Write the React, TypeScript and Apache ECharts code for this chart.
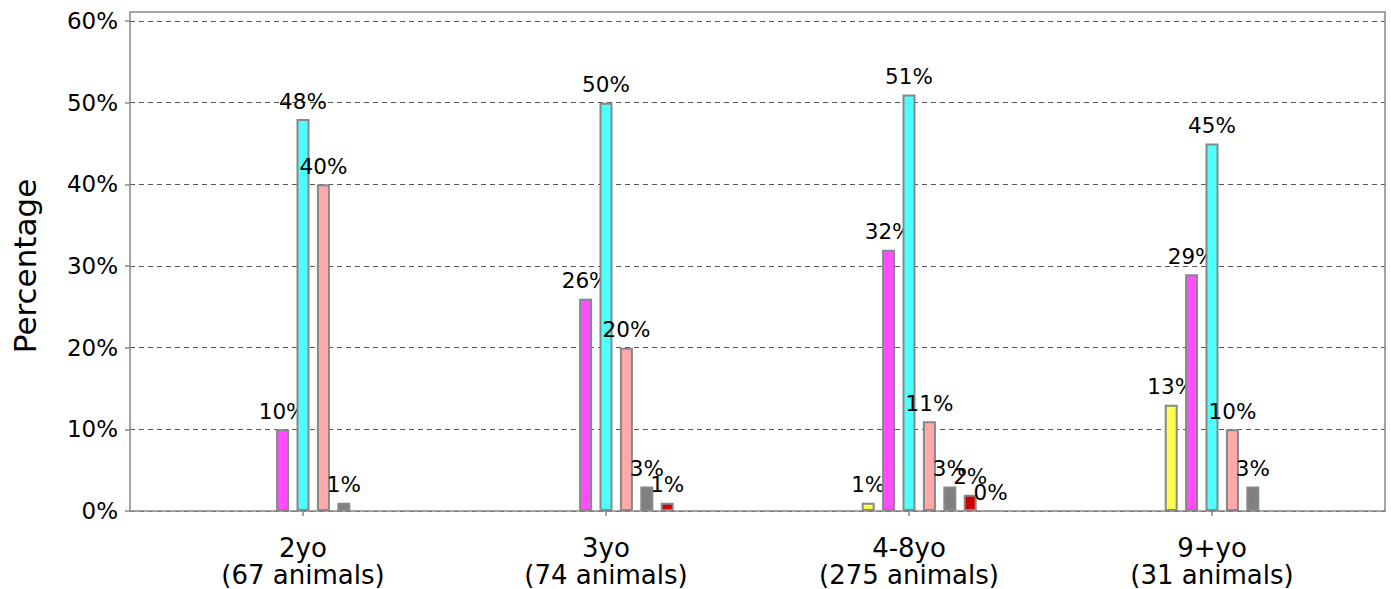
import React, { useEffect, useRef } from "react";
import * as echarts from "echarts";

const categories = ["2yo\n(67 animals)", "3yo\n(74 animals)", "4-8yo\n(275 animals)", "9+yo\n(31 animals)"];
const yTicks = [0, 10, 20, 30, 40, 50, 60];
const emptyA: (number | null)[] = [null, null, null, null];
const emptyB: (number | null)[] = [null, null, null, null];
const yellowVals: (number | null)[] = [null, null, 1, 13];
const magentaVals: (number | null)[] = [10, 26, 32, 29];
const cyanVals: (number | null)[] = [48, 50, 51, 45];
const pinkVals: (number | null)[] = [40, 20, 11, 10];
const grayVals: (number | null)[] = [1, 3, 3, 3];
const redVals: (number | null)[] = [null, 1, 2, null];
const lightVals: (number | null)[] = [null, null, 0, null];

const seriesDefs = [
  { name: "a", data: emptyA, color: "#ffffff", border: "#888888" },
  { name: "b", data: emptyB, color: "#ffffff", border: "#888888" },
  { name: "yellow", data: yellowVals, color: "#ffff4d", border: "#888888" },
  { name: "magenta", data: magentaVals, color: "#ff4dff", border: "#888888" },
  { name: "cyan", data: cyanVals, color: "#4dffff", border: "#888888" },
  { name: "pink", data: pinkVals, color: "#ffaaaa", border: "#888888" },
  { name: "gray", data: grayVals, color: "#808080", border: "#888888" },
  { name: "red", data: redVals, color: "#cc0000", border: "#888888" },
  { name: "light", data: lightVals, color: "#d9d9d9", border: "#cccccc" },
];

const FONT = "DejaVu Sans";

export default function App() {
  const ref = useRef<HTMLDivElement>(null);
  useEffect(() => {
    if (!ref.current) return;
    const chart = echarts.init(ref.current, null, { renderer: "svg" });
    const option: any = {
      animation: false,
      backgroundColor: "#ffffff",
      textStyle: { fontFamily: FONT },
      grid: [
        { left: 130, top: 12, right: 6, bottom: 78, show: true, borderColor: "#888888", borderWidth: 1.5, backgroundColor: "transparent", z: 30 },
        { left: 130, top: 21, right: 6, bottom: 78 },
        { left: 151.5, top: 21, width: 1212, bottom: 78 },
      ],
      xAxis: [
        { gridIndex: 0, type: "value", show: false, min: 0, max: 1 },
        { gridIndex: 1, type: "value", show: false, min: 0, max: 1 },
        {
          gridIndex: 2,
          type: "category",
          data: categories,
          axisLine: { show: false },
          axisTick: { show: true, alignWithLabel: true, length: 5, lineStyle: { color: "#888888", width: 1.5 } },
          axisLabel: { fontFamily: FONT, fontSize: 26, color: "#000", lineHeight: 27, margin: 23 },
          splitLine: { show: false },
        },
      ],
      yAxis: [
        { gridIndex: 0, type: "value", show: false, min: 0, max: 1 },
        {
          gridIndex: 1,
          type: "value",
          min: 0,
          max: 60,
          interval: 10,
          name: "Percentage",
          nameLocation: "middle",
          nameRotate: 90,
          nameGap: 90,
          nameTextStyle: { fontFamily: FONT, fontSize: 31, color: "#000" },
          axisLine: { show: false },
          axisTick: { show: true, length: 5, lineStyle: { color: "#888888", width: 1.5 } },
          axisLabel: {
            fontFamily: FONT,
            fontSize: 23,
            color: "#000",
            margin: 12,
            formatter: (v: number) => (yTicks.includes(v) ? `${v}%` : ""),
          },
          splitLine: { show: true, lineStyle: { type: [5, 4], color: "#555555", width: 1 } },
        },
        { gridIndex: 2, type: "value", show: false, min: 0, max: 60 },
      ],
      series: seriesDefs.map((s, i) => ({
        type: "bar",
        name: s.name,
        xAxisIndex: 2,
        yAxisIndex: 2,
        z: 2 + i,
        data: s.data.map((v) => (v === null ? "-" : v)),
        barWidth: 13,
        barGap: "57%",
        itemStyle: { color: s.color, borderColor: s.border, borderWidth: 2 },
        label: {
          show: true,
          position: "top",
          distance: 7,
          fontFamily: FONT,
          fontSize: 21.5,
          color: "#000",
          formatter: (p: any) => `${p.value}%`,
        },
      })),
    };
    chart.setOption(option);
    return () => chart.dispose();
  }, []);
  return <div ref={ref} style={{ position: "absolute", left: 0, top: 0, width: 1391, height: 589 }} />;
}
